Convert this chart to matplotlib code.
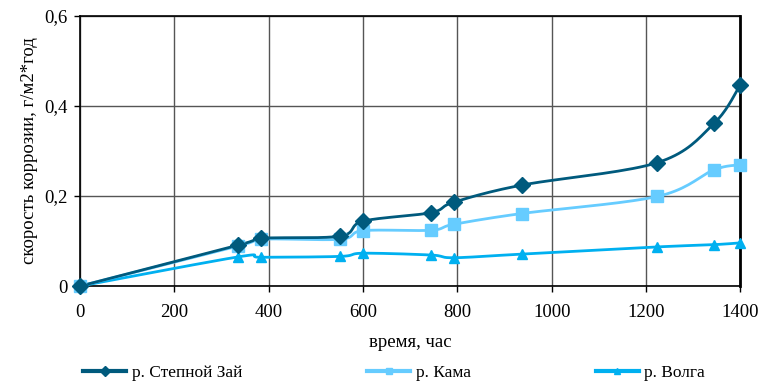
import numpy as np
import matplotlib
matplotlib.use("Agg")
import matplotlib.pyplot as plt
from matplotlib.lines import Line2D
from matplotlib.ticker import FuncFormatter

# ---------- données ----------
hours = [0, 336, 384, 552, 600, 744, 792, 936, 1224, 1344, 1400]
stepnoy_zai = [0, 0.091, 0.106, 0.111, 0.144, 0.163, 0.186, 0.224, 0.274, 0.361, 0.447]
kama = [0, 0.089, 0.104, 0.104, 0.123, 0.124, 0.137, 0.161, 0.199, 0.258, 0.269]
volga = [0, 0.065, 0.064, 0.066, 0.073, 0.069, 0.063, 0.071, 0.087, 0.092, 0.096]
labels = ["р. Степной Зай", "р. Кама", "р. Волга"]
x_ticks = [0, 200, 400, 600, 800, 1000, 1200, 1400]
y_ticks = [0, 0.2, 0.4, 0.6]
# ---------------------------------------------------

COLORS = ["#005a7d", "#66ccff", "#00b0f0"]
MARKERS = ["D", "s", "^"]
MSIZES = [8, 9, 7]

plt.rcParams["font.family"] = ["Liberation Serif", "DejaVu Serif"]


def smooth(x, y, n=20):
    """Courbe lissée façon Excel (Catmull-Rom) passant par les points."""
    x = np.asarray(x, float)
    y = np.asarray(y, float)
    px = np.concatenate([[x[0]], x, [x[-1]]])
    py = np.concatenate([[y[0]], y, [y[-1]]])
    xs, ys = [], []
    for i in range(1, len(px) - 2):
        p0x, p1x, p2x, p3x = px[i - 1], px[i], px[i + 1], px[i + 2]
        p0y, p1y, p2y, p3y = py[i - 1], py[i], py[i + 1], py[i + 2]
        c1x, c1y = p1x + (p2x - p0x) / 6, p1y + (p2y - p0y) / 6
        c2x, c2y = p2x - (p3x - p1x) / 6, p2y - (p3y - p1y) / 6
        t = np.linspace(0, 1, n)
        b0, b1, b2, b3 = (1 - t) ** 3, 3 * t * (1 - t) ** 2, 3 * t ** 2 * (1 - t), t ** 3
        xs.append(b0 * p1x + b1 * c1x + b2 * c2x + b3 * p2x)
        ys.append(b0 * p1y + b1 * c1y + b2 * c2y + b3 * p2y)
    return np.concatenate(xs), np.concatenate(ys)


fig = plt.figure(figsize=(7.61, 3.81), dpi=100)
ax = fig.add_axes([0.105, 0.249, 0.868, 0.710])

series = [stepnoy_zai, kama, volga]
# ordre inverse pour que Степной Зай reste au-dessus
for vals, col, mk, ms in reversed(list(zip(series, COLORS, MARKERS, MSIZES))):
    sx, sy = smooth(hours, vals)
    ax.plot(sx, sy, color=col, lw=2, clip_on=False, zorder=3)
    ax.plot(hours, vals, ls="none", marker=mk, ms=ms, color=col,
            clip_on=False, zorder=4)

ax.set_xlim(0, 1400)
ax.set_ylim(0, 0.6)
ax.set_xticks(x_ticks)
ax.set_yticks(y_ticks)
ax.yaxis.set_major_formatter(FuncFormatter(
    lambda v, p: "0" if v == 0 else f"{v:.1f}".replace(".", ",")))
ax.tick_params(labelsize=13.5, direction="out", length=4, width=1, pad=9)
ax.tick_params(axis="y", pad=5)
ax.grid(True, color="#555555", lw=1)
ax.set_axisbelow(True)
for s in ax.spines.values():
    s.set_color("black")
    s.set_linewidth(1.2)
ax.spines["right"].set_linewidth(2)

ax.set_xlabel("время, час", fontsize=13.5, labelpad=9)
ax.set_ylabel("скорость коррозии, г/м2*год", fontsize=13.5, labelpad=4)

handles = [Line2D([], [], color=c, lw=3, marker=m, ms=5)
           for c, m in zip(COLORS, MARKERS)]
fig.legend(handles, labels, loc="center left", bbox_to_anchor=(0.1, 0.02),
           ncol=3, frameon=False, fontsize=12.5, handlelength=2.5,
           handletextpad=0.3, columnspacing=7.2, borderaxespad=0)

fig.savefig("out.png", dpi=100)
